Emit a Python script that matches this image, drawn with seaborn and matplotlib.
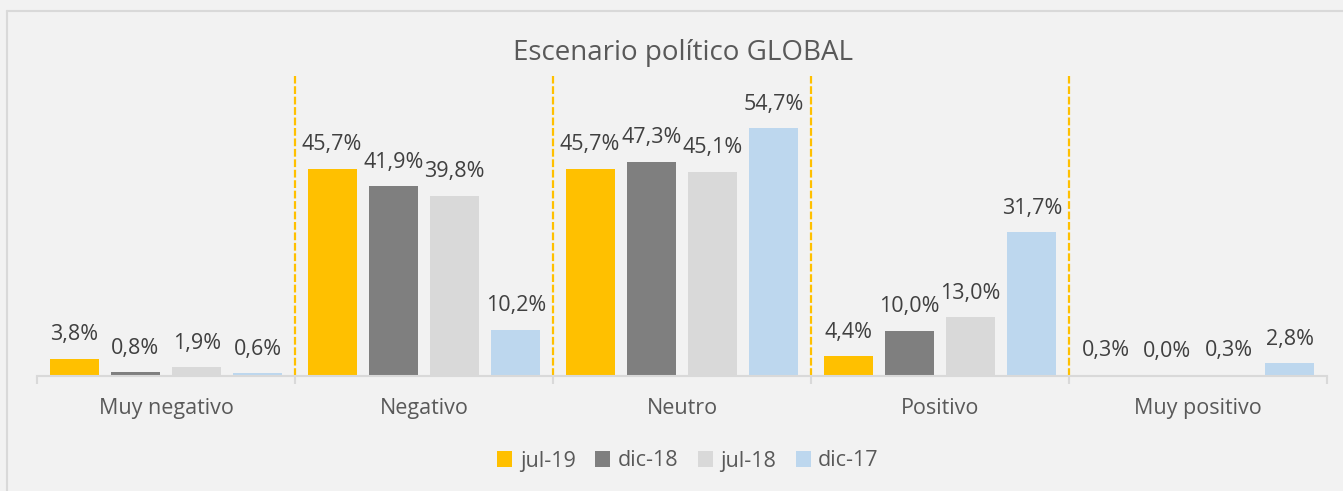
import numpy as np
import pandas as pd
import matplotlib
matplotlib.use("Agg")
import matplotlib.pyplot as plt
from matplotlib.lines import Line2D
import seaborn as sns

sns.set_theme(style="white")
plt.rcParams["font.family"] = ["Open Sans", "DejaVu Sans"]

# --- Datos ---
categorias = ["Muy negativo", "Negativo", "Neutro", "Positivo", "Muy positivo"]
periodos = ["jul-19", "dic-18", "jul-18", "dic-17"]
jul19 = [3.8, 45.7, 45.7, 4.4, 0.3]
dic18 = [0.8, 41.9, 47.3, 10.0, 0.0]
jul18 = [1.9, 39.8, 45.1, 13.0, 0.3]
dic17 = [0.6, 10.2, 54.7, 31.7, 2.8]
colores = ["#FFC000", "#7F7F7F", "#D9D9D9", "#BDD7EE"]

filas = []
for per, vals in zip(periodos, [jul19, dic18, jul18, dic17]):
    for cat, v in zip(categorias, vals):
        filas.append({"categoria": cat, "periodo": per, "valor": v})
df = pd.DataFrame(filas)

W, H = 1343, 491
fig = plt.figure(figsize=(W / 100, H / 100), dpi=100)
fig.patch.set_facecolor("#F2F2F2")
ax = fig.add_axes([37 / W, 115 / H, (1327 - 37) / W, 300 / H])
ax.set_facecolor("#F2F2F2")

sns.barplot(data=df, x="categoria", y="valor", hue="periodo",
            order=categorias, hue_order=periodos, palette=colores,
            width=0.95, gap=0.2, ax=ax, legend=True, errorbar=None,
            saturation=1, edgecolor="none")

# etiquetas de valor
for cont in ax.containers:
    for bar in cont:
        h = bar.get_height()
        ax.annotate(f"{h:.1f}%".replace(".", ","),
                    (bar.get_x() + bar.get_width() / 2, h),
                    xytext=(0, 24), textcoords="offset pixels",
                    ha="center", va="center", fontsize=15.5, color="#404040")

# separadores
for xb in [0.5, 1.5, 2.5, 3.5]:
    ax.axvline(xb, ymin=0, ymax=1, color="#FFC000", lw=1.6,
               linestyle=(0, (3.5, 1.2)))

ax.set_xlim(-0.5, 4.5)
ax.set_ylim(0, 66.2)
ax.set_yticks([])
ax.set_xlabel("")
ax.set_ylabel("")
for s in ["top", "left", "right"]:
    ax.spines[s].set_visible(False)
ax.spines["bottom"].set_color("#D9D9D9")
ax.spines["bottom"].set_linewidth(1.5)

ax.set_xticks(np.arange(-0.5, 5, 1.0))
ax.set_xticklabels([])
ax.tick_params(axis="x", which="major", length=6, width=1.5,
               color="#D9D9D9", direction="out", bottom=True)
ax.set_xticks(np.arange(5), minor=True)
ax.set_xticklabels(categorias, minor=True, fontsize=15.5, color="#595959")
ax.tick_params(axis="x", which="minor", length=0, pad=16)

leg = ax.legend(loc="center", bbox_to_anchor=(688 / W, 1 - 461 / H),
                bbox_transform=fig.transFigure, ncol=4, frameon=False,
                fontsize=15.5, handlelength=0.7, handleheight=0.7,
                handletextpad=0.35, columnspacing=0.9)
for t in leg.get_texts():
    t.set_color("#595959")

fig.text(683 / W, 1 - 53 / H, "Escenario político GLOBAL",
         ha="center", va="center", fontsize=20, color="#595959")

# borde del gráfico
fig.add_artist(Line2D([7 / W, 1], [1 - 11 / H, 1 - 11 / H],
                      transform=fig.transFigure, color="#D9D9D9", lw=1.5))
fig.add_artist(Line2D([7 / W, 7 / W], [0, 1 - 11 / H],
                      transform=fig.transFigure, color="#D9D9D9", lw=1.5))

fig.savefig("out.png", dpi=100, facecolor=fig.get_facecolor())
